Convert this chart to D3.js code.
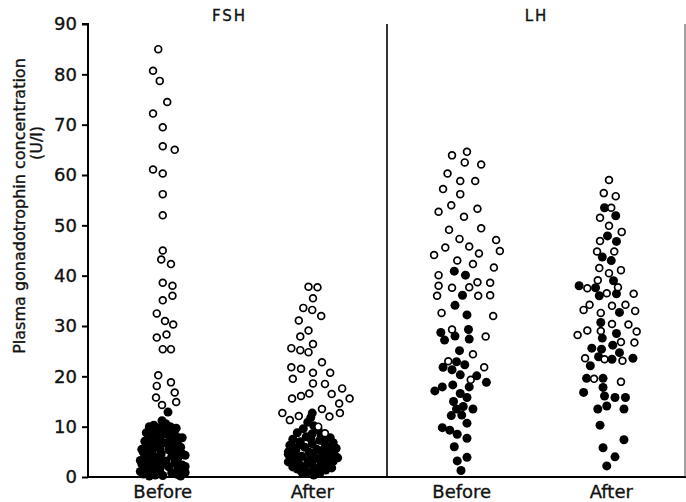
<!DOCTYPE html>
<html>
<head>
<meta charset="utf-8">
<script src="https://cdn.jsdelivr.net/npm/d3@7"></script>
<style>
  body { margin: 0; background: #fff; }
  text { font-family: "DejaVu Sans", sans-serif; fill: #111; stroke: #111; stroke-width: 0.35px; }
</style>
</head>
<body>
<svg id="chart" width="686" height="502"></svg>
<script>
// groups along the x axis, two panels
var groups = ["FSH Before", "FSH After", "LH Before", "LH After"];
var groupLabels = ["Before", "After", "Before", "After"];
var panels = ["FSH", "LH"];
var yTicks = [0, 10, 20, 30, 40, 50, 60, 70, 80, 90];

// each point: [concentration U/l, horizontal jitter in group widths]
var fshBeforeOpen = [[85.0,-0.03],[80.7,-0.065],[78.7,-0.02],[74.5,0.03],[72.2,-0.065],[69.5,0],[65.7,0],[65.0,0.08],
  [61.1,-0.065],[60.3,0],[56.2,0],[52.0,0],[45.0,0],[43.2,-0.01],[42.3,0.055],[38.6,0],[38.0,0.065],[36.0,0.065],
  [35.1,0],[32.5,-0.04],[31.0,0.015],[30.3,0.07],[28.3,0.025],[27.7,-0.04],[25.4,0],[25.4,0.055],[20.2,-0.03],
  [18.1,-0.04],[18.8,0.055],[16.8,0.08],[15.8,-0.045],[14.3,-0.005],[14.9,0.09]];
var fshBeforeFilled = [[12.9,0.035],[11.2,-0.005],
  [10.3,-0.06],[10.0,-0.09],[9.6,-0.04],[9.2,-0.08],[8.8,-0.11],[8.4,-0.06],[8.0,-0.09],[7.5,-0.05],[7.1,-0.12],
  [6.6,-0.08],[6.2,-0.05],[5.8,-0.11],[5.3,-0.07],[4.9,-0.13],[4.4,-0.09],[4.0,-0.05],[3.5,-0.12],[3.1,-0.08],
  [2.6,-0.14],[2.2,-0.1],[1.8,-0.06],[1.4,-0.12],[1.0,-0.08],[0.6,-0.13],[0.4,-0.05],
  [10.6,0.02],[10.0,0.05],[9.5,0.01],[9.0,0.07],[8.5,0.03],[8.1,0.09],[7.6,0.05],[7.2,0.1],[6.7,0.02],[6.3,0.07],
  [5.9,0.12],[5.4,0.04],[5.0,0.09],[4.6,0.13],[4.1,0.06],[3.7,0.1],[3.2,0.02],[2.8,0.08],[2.4,0.13],[2.0,0.04],
  [1.6,0.1],[1.2,0.14],[0.8,0.06],[0.5,0.1],[0.3,0.0],[1.5,-0.02],[2.9,-0.03],[4.6,-0.01],[6.9,-0.02],
  [9.8,-0.02],[8.3,-0.01],[7.3,-0.015],[5.6,-0.02],[3.8,-0.02],[2.3,-0.01],[0.9,-0.02],[0.2,-0.09],[0.2,0.12],
  [1.1,-0.15],[3.3,-0.15],[5.5,-0.14],[7.8,0.13],[9.7,0.09],[0.9,0.15],[2.1,0.15],[4.3,0.15]];
var fshAfterOpen = [[37.8,-0.025],[37.7,0.035],[35.5,0.005],[33.6,-0.06],[33.2,0],[32.0,0.06],[31.1,-0.09],
  [29.1,-0.025],[27.9,-0.08],[26.4,0.005],[25.6,-0.14],[25.2,-0.08],[24.8,-0.025],[22.8,0.065],[21.8,-0.14],
  [21.5,-0.075],[20.7,0.005],[20.7,0.12],[19.5,-0.13],[18.6,0.005],[18.5,0.085],[17.6,0.2],[16.6,-0.02],
  [16.1,-0.075],[16.5,0.13],[15.6,-0.135],[15.6,0.25],[14.6,0.18],[13.5,0.065],[12.7,-0.2],[12.7,0.185],
  [12.0,0.115],[11.3,-0.15],[12.1,-0.09],[10.0,0.04],[8.7,0.085]];
var fshAfterFilled = [[12.7,0.0],[11.8,-0.01],[10.9,-0.03],[10.2,0.01],[9.6,-0.06],[9.3,0.04],[8.8,-0.1],[8.6,0.0],
  [8.4,0.08],[8.0,-0.04],[7.8,0.12],[7.5,-0.13],[7.3,0.05],[7.0,-0.08],[6.8,0.14],[6.6,0.0],[6.3,-0.15],[6.1,0.09],
  [5.9,-0.05],[5.7,0.16],[5.5,0.03],[5.3,-0.11],[5.1,0.12],[4.9,-0.02],[4.7,0.07],[4.5,-0.16],[4.3,0.15],
  [4.1,-0.07],[3.9,0.02],[3.7,0.1],[3.5,-0.12],[3.3,-0.03],[3.1,0.14],[2.9,0.06],[2.7,-0.09],[2.5,0.0],
  [2.3,0.11],[2.1,-0.05],[1.9,0.05],[1.6,-0.1],[1.4,0.09],[1.1,0.0],[0.9,-0.04],[0.7,0.05],[0.4,0.01],
  [5.0,-0.16],[3.8,0.17],[6.0,-0.13],
  [4.0,0.0],[5.2,0.06],[6.4,-0.08],[2.6,0.08],[3.4,0.05],[6.9,0.08],[1.5,0.03],[2.0,-0.13],[3.0,-0.16],
  [4.4,-0.12],[5.8,0.11],[7.6,-0.01],[8.2,0.06],[1.0,-0.07],[1.8,0.13]];
var lhBeforeOpen = [[63.9,-0.065],[64.6,0.035],[62.5,0.02],[62.1,0.13],[60.3,-0.095],[58.8,-0.01],[58.8,0.09],
  [57.2,-0.125],[56.2,-0.01],[52.7,-0.155],[54.0,-0.07],[53.3,0.105],[51.7,0.015],[49.1,-0.085],[49.4,0.13],
  [47.3,-0.015],[47.1,0.23],[45.6,-0.11],[45.8,0.05],[44.9,0.255],[44.4,0.115],[44.1,-0.185],[43.0,-0.03],
  [42.3,0.075],[41.6,0.215],[40.1,-0.155],[38.7,0.105],[38.6,0.19],[38.0,-0.155],[37.6,-0.065],[37.7,0.05],
  [36.0,-0.165],[36.0,0.11],[36.1,0.19],[32.6,-0.135],[32.0,0.21],[29.3,-0.065],[27.9,0.16],[24.4,0.075],
  [23.0,-0.09],[21.8,0.15],[19.3,0.06]];
var lhBeforeFilled = [[40.9,-0.05],[40.1,0.025],[36.1,0.005],[34.1,-0.045],[32.2,0.035],[28.7,-0.14],[29.3,0.045],
  [27.2,-0.115],[28.0,-0.045],[27.4,0.05],[25.1,-0.015],[22.9,-0.035],[21.8,-0.125],[21.3,-0.065],[22.3,0.02],
  [20.3,-0.01],[20.1,0.1],[18.8,0.165],[17.9,-0.13],[17.1,-0.18],[18.3,-0.06],[17.9,0.05],[16.6,-0.01],
  [15.8,0.035],[15.0,-0.055],[13.5,-0.035],[14.0,0.01],[13.5,0.075],[12.2,-0.07],[12.3,0.0],[10.7,0.035],
  [9.8,-0.13],[9.3,-0.08],[8.5,-0.03],[7.7,0.035],[6.0,-0.05],[3.9,0.035],[3.2,-0.03],[1.3,-0.005]];
var lhAfterOpen = [[59.0,-0.015],[56.4,-0.05],[55.8,0.03],[53.5,0.0],[51.5,-0.075],[49.9,-0.015],[48.7,0.07],
  [46.9,-0.075],[44.8,-0.095],[44.8,0.02],[41.5,-0.08],[41.1,0.065],[40.5,-0.015],[39.1,-0.09],[37.5,-0.16],
  [37.7,0.045],[36.5,-0.03],[36.4,0.15],[34.2,-0.145],[33.2,-0.185],[34.0,0.005],[34.2,0.095],[33.0,0.16],
  [32.6,-0.07],[30.4,0.005],[30.3,0.115],[29.1,-0.16],[29.0,-0.07],[28.9,0.17],[28.2,-0.225],[26.8,0.065],
  [26.7,0.155],[23.6,-0.175],[23.4,-0.045],[23.1,0.075],[19.5,-0.115],[18.9,0.065]];
var lhAfterFilled = [[53.5,-0.045],[51.9,0.03],[47.9,-0.025],[46.8,0.035],[43.7,-0.06],[43.0,0.0],[39.0,0.015],
  [38.0,-0.215],[37.6,-0.105],[36.0,-0.08],[36.4,0.035],[32.7,0.055],[30.7,-0.07],[28.5,0.035],[27.6,-0.06],
  [25.6,-0.13],[25.4,-0.065],[26.2,0.01],[24.7,0.055],[23.9,-0.085],[23.4,0.005],[23.6,0.145],[22.1,-0.14],
  [19.6,-0.165],[19.6,-0.055],[17.8,-0.055],[16.8,-0.185],[16.1,-0.045],[15.8,0.025],[15.8,0.095],[14.1,-0.03],
  [13.5,-0.09],[13.5,0.085],[10.3,-0.075],[7.4,0.085],[5.8,-0.055],[4.0,0.025],[2.2,-0.03]];

var openSets = [fshBeforeOpen, fshAfterOpen, lhBeforeOpen, lhAfterOpen];
var filledSets = [fshBeforeFilled, fshAfterFilled, lhBeforeFilled, lhAfterFilled];

var margin = {top: 24, right: 0, bottom: 25, left: 88},
    width = 686 - margin.left - margin.right,
    height = 502 - margin.top - margin.bottom;

var svg = d3.select("#chart");
var g = svg.append("g").attr("transform", "translate(" + margin.left + "," + margin.top + ")");

var x = d3.scaleBand().domain(groups).range([0, width]).padding(0);
var jx = d3.scaleLinear().domain([0, 1]).range([0, x.bandwidth()]);
var y = d3.scaleLinear().domain([0, 90]).range([height, 0]);
var panel = d3.scaleBand().domain(panels).range([0, width]);

function cx(gi, d) { return x(groups[gi]) + x.bandwidth() / 2 + jx(d[1]); }

// filled points underneath
filledSets.forEach(function (set, gi) {
    g.append("g").selectAll("circle").data(set).enter().append("circle")
        .attr("cx", function (d) { return cx(gi, d); })
        .attr("cy", function (d) { return y(d[0]); })
        .attr("r", 4.5)
        .style("fill", "#000");
});
openSets.forEach(function (set, gi) {
    g.append("g").selectAll("circle").data(set).enter().append("circle")
        .attr("cx", function (d) { return cx(gi, d); })
        .attr("cy", function (d) { return y(d[0]); })
        .attr("r", 3.4)
        .style("fill", "#fff")
        .style("stroke", "#000")
        .style("stroke-width", 1.7);
});

// y axis
var yAxis = g.append("g").call(d3.axisLeft(y).tickValues(yTicks).tickSize(6).tickPadding(5));
yAxis.select(".domain").attr("d", "M-6," + y(90) + "H0V" + height).style("stroke-width", 2);
yAxis.selectAll(".tick line").style("stroke-width", 2);
yAxis.selectAll(".tick text").style("font-size", "18px").style("font-family", "DejaVu Sans, sans-serif").attr("fill", "#111");

// baseline
g.append("line").attr("x1", 0).attr("x2", width).attr("y1", height).attr("y2", height)
    .style("stroke", "#000").style("stroke-width", 2);

// panel divider and right edge
g.append("line").attr("x1", panel("LH")).attr("x2", panel("LH")).attr("y1", y(90)).attr("y2", height)
    .style("stroke", "#000").style("stroke-width", 1.6);
g.append("line").attr("x1", width - 1).attr("x2", width - 1).attr("y1", y(90)).attr("y2", height)
    .style("stroke", "#444").style("stroke-width", 1);

// panel titles
g.selectAll(".ptitle").data(panels).enter().append("text")
    .attr("x", function (d) { return panel(d) + panel.bandwidth() / 2 - (d === "FSH" ? 8 : 0); })
    .attr("y", -3)
    .attr("text-anchor", "middle")
    .style("font-size", "15px")
    .style("letter-spacing", "2px")
    .text(function (d) { return d; });

// group labels
g.selectAll(".glabel").data(groups).enter().append("text")
    .attr("x", function (d) { return x(d) + x.bandwidth() / 2; })
    .attr("y", height + 21)
    .attr("text-anchor", "middle")
    .style("font-size", "18px")
    .text(function (d, i) { return groupLabels[i]; });

// y title
svg.append("text")
    .attr("transform", "translate(25,206) rotate(-90)")
    .attr("text-anchor", "middle")
    .style("font-size", "16px")
    .text("Plasma gonadotrophin concentration");
svg.append("text")
    .attr("transform", "translate(42,143) rotate(-90)")
    .attr("text-anchor", "middle")
    .style("font-size", "16px")
    .text("(U/l)");
</script>
</body>
</html>
